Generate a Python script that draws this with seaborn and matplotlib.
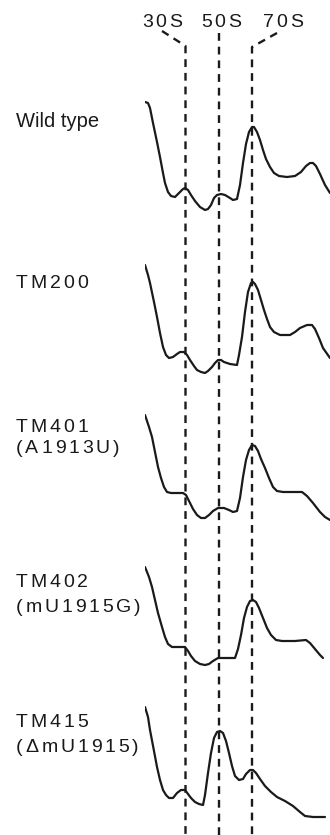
import matplotlib
matplotlib.use("Agg")
import matplotlib.pyplot as plt
import seaborn as sns

# sucrose gradient profiles, A260 vs. depth (top of gradient = 0)
strains = ["Wild type", "TM200", "TM401\n(A1913U)", "TM402\n(mU1915G)", "TM415\n(\u0394mU1915)"]

wt_depth = [0, 3, 5, 8, 12, 15, 18, 20, 23, 26, 30, 34, 38, 40, 43, 46, 50, 55, 60, 63, 66, 69, 72, 76, 80, 85, 88, 92, 95, 98,
            101, 104, 107, 109, 112, 115, 118, 121, 125, 129, 134, 142, 150, 156, 161, 165, 168, 171, 175, 180, 185]
wt_a260 = [1.18, 1.17, 1.12, 0.97, 0.78, 0.63, 0.47, 0.37, 0.28, 0.24, 0.23, 0.27, 0.31, 0.32, 0.30, 0.25, 0.19, 0.13, 0.10, 0.11,
           0.15, 0.22, 0.25, 0.26, 0.25, 0.22, 0.20, 0.21, 0.35, 0.57,
           0.76, 0.88, 0.93, 0.93, 0.88, 0.80, 0.70, 0.61, 0.53, 0.47, 0.44, 0.43, 0.44, 0.48, 0.54, 0.57, 0.57, 0.54, 0.46, 0.35, 0.27]

tm200_depth = [0, 3, 5, 9, 12, 15, 18, 21, 24, 28, 32, 35, 39, 42, 45, 49, 52, 56, 60, 63, 67, 70, 73, 76, 79, 85, 92, 94, 97,
               100, 103, 106, 108, 110, 113, 116, 119, 122, 125, 129, 135, 145, 150, 155, 162, 167, 170, 174, 178, 185]
tm200_a260 = [1.15, 1.05, 0.97, 0.78, 0.63, 0.47, 0.33, 0.25, 0.22, 0.23, 0.26, 0.28, 0.28, 0.25, 0.20, 0.14, 0.10, 0.08, 0.07,
              0.09, 0.13, 0.17, 0.20, 0.20, 0.18, 0.16, 0.15, 0.25, 0.43,
              0.68, 0.88, 0.97, 0.98, 0.96, 0.90, 0.80, 0.70, 0.61, 0.53, 0.48, 0.45, 0.45, 0.48, 0.52, 0.55, 0.55, 0.51, 0.42, 0.32, 0.22]

tm401_depth = [0, 4, 7, 10, 13, 16, 19, 22, 26, 32, 38, 41, 44, 48, 52, 56, 60, 64, 68, 73, 79, 84, 88, 92, 95, 98,
               101, 104, 107, 110, 113, 116, 120, 124, 128, 132, 138, 157, 162, 168, 175, 180, 185]
tm401_a260 = [1.15, 1.03, 0.93, 0.78, 0.63, 0.52, 0.43, 0.38, 0.37, 0.37, 0.37, 0.35, 0.29, 0.21, 0.15, 0.12, 0.12, 0.15,
              0.19, 0.22, 0.22, 0.20, 0.18, 0.19, 0.32, 0.53,
              0.70, 0.80, 0.85, 0.84, 0.79, 0.71, 0.62, 0.52, 0.43, 0.39, 0.38, 0.38, 0.34, 0.27, 0.18, 0.13, 0.10]

tm402_depth = [0, 4, 7, 10, 13, 17, 20, 23, 27, 33, 40, 43, 46, 50, 55, 60, 64, 68, 73, 82, 90, 93, 96, 99,
               102, 105, 108, 111, 114, 118, 122, 126, 131, 137, 150, 161, 165, 170, 175, 178]
tm402_a260 = [1.08, 0.98, 0.88, 0.75, 0.62, 0.48, 0.38, 0.31, 0.28, 0.28, 0.28, 0.24, 0.19, 0.14, 0.11, 0.10, 0.11, 0.14,
              0.17, 0.17, 0.17, 0.26, 0.40, 0.57,
              0.68, 0.74, 0.75, 0.73, 0.67, 0.57, 0.47, 0.40, 0.35, 0.34, 0.34, 0.35, 0.32, 0.26, 0.20, 0.17]

tm415_depth = [0, 3, 5, 9, 12, 15, 18, 21, 24, 28, 32, 36, 40, 43, 46, 50, 54, 58, 60, 63, 66, 69, 72, 75, 78, 81, 84, 87,
               90, 94, 98, 101, 105, 108, 111, 115, 120, 126, 132, 140, 148, 155, 160, 168, 180]
tm415_a260 = [1.18, 1.08, 0.95, 0.74, 0.58, 0.45, 0.35, 0.30, 0.27, 0.27, 0.32, 0.35, 0.35, 0.31, 0.27, 0.23, 0.21, 0.20,
              0.30, 0.52, 0.72, 0.87, 0.93, 0.94, 0.92, 0.84, 0.72, 0.59,
              0.49, 0.45, 0.46, 0.51, 0.55, 0.55, 0.52, 0.46, 0.39, 0.33, 0.28, 0.24, 0.19, 0.13, 0.09, 0.08, 0.08]

depths = [wt_depth, tm200_depth, tm401_depth, tm402_depth, tm415_depth]
a260s = [wt_a260, tm200_a260, tm401_a260, tm402_a260, tm415_a260]

peak_names = ["30S", "50S", "70S"]
peak_depth = [40.5, 74, 107]

sns.set_theme(style="white")
plt.rcParams["font.family"] = ["Liberation Sans", "DejaVu Sans"]

W, H = 330, 835
fig = plt.figure(figsize=(W / 100, H / 100), dpi=100)
fig.patch.set_facecolor("white")


def px_axes(x0, y0, w, h):
    return fig.add_axes([x0 / W, 1 - (y0 + h) / H, w / W, h / H])


renderer = fig.canvas.get_renderer()
ink = "#1a1a1a"


def tracked(x, y, s, track, size):
    # text with extra letter spacing, x/y in pixels (baseline)
    for ch in s:
        t = fig.text(x / W, 1 - y / H, ch, fontsize=size, ha="left", va="baseline", color=ink)
        x += t.get_window_extent(renderer).width + track


# overlay for marker lines
over = px_axes(0, 0, W, H)
over.set_xlim(-145, 185)
over.set_ylim(H, 0)
over.axis("off")
dash = dict(color=ink, lw=1.7, dashes=(3.3, 2.5), dash_capstyle="butt")
over.plot([17, peak_depth[0], peak_depth[0]], [31, 46, H], **dash)
over.plot([peak_depth[1], peak_depth[1]], [33, H], **dash)
over.plot([132, peak_depth[2], peak_depth[2]], [33, 47, H], **dash)
for name, xc in zip(peak_names, [162, 221, 283]):
    tracked(xc - 20, 27, name, 2.7, 14)

# one panel per strain
panel_bottom = [220, 380, 530, 675, 825]
for i in range(len(strains)):
    ax = px_axes(145, panel_bottom[i] - 125, 185, 125)
    sns.lineplot(x=depths[i], y=a260s[i], ax=ax, color=ink, lw=1.6)
    ax.set_xlim(0, 185)
    ax.set_ylim(0, 1.25)
    ax.axis("off")
    ax.patch.set_alpha(0)

fig.text(16 / W, 1 - 127 / H, strains[0], fontsize=14.5, ha="left", va="baseline", color=ink)
label_base = [(288,), (432, 453), (587, 612), (727, 752)]
for s, bases in zip(strains[1:], label_base):
    for line, yb in zip(s.split("\n"), bases):
        tracked(16, yb, line, 2.8, 14)

fig.savefig("out.png", dpi=100, facecolor="white")
